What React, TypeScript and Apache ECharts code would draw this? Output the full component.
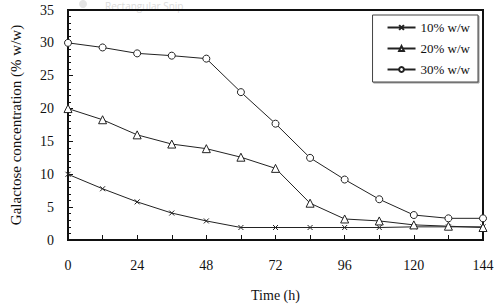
import React, { useEffect, useRef } from "react";
import * as echarts from "echarts";

const times = [0, 12, 24, 36, 48, 60, 72, 84, 96, 108, 120, 132, 144];
const s10 = [10.0, 7.8, 5.8, 4.1, 2.9, 1.9, 1.9, 1.9, 1.9, 1.9, 2.0, 2.0, 2.0];
const s20 = [20.0, 18.3, 16.0, 14.6, 13.9, 12.6, 10.9, 5.6, 3.2, 2.9, 2.3, 2.1, 1.9];
const s30 = [30.0, 29.3, 28.4, 28.05, 27.6, 22.5, 17.7, 12.5, 9.2, 6.2, 3.8, 3.3, 3.3];
const seriesNames = ["10% w/w", "20% w/w", "30% w/w"];
const xLabelTicks = [0, 24, 48, 72, 96, 120, 144];

const FONT = "Liberation Serif";
const CROSS = "path://M0,0L10,10M10,0L0,10";

export default function App() {
  const ref = useRef<HTMLDivElement>(null);
  useEffect(() => {
    if (!ref.current) return;
    document.body.style.margin = "0";
    const chart = echarts.init(ref.current, undefined, { renderer: "svg" });
    const mk = (name: string, vals: number[], symbol: string, size: number) => ({
      name,
      type: "line",
      data: times.map((t, i) => [t, vals[i]]),
      symbol,
      symbolSize: size,
      showAllSymbol: true,
      lineStyle: { color: "#222", width: 1 },
      itemStyle: { color: "#fff", borderColor: "#222", borderWidth: 1 },
      emphasis: { disabled: true },
    });
    chart.setOption({
      animation: false,
      backgroundColor: "#fff",
      textStyle: { fontFamily: FONT },
      grid: {
        left: 68,
        right: 17,
        top: 10,
        bottom: 66,
        outerBoundsMode: "none",
        containLabel: false,
        show: true,
        borderColor: "#111",
        borderWidth: 2,
      },
      xAxis: {
        type: "value",
        min: 0,
        max: 144,
        interval: 12,
        name: "Time (h)",
        nameLocation: "middle",
        nameGap: 48,
        nameTextStyle: { fontFamily: FONT, fontSize: 14, color: "#111" },
        axisLine: { show: true, lineStyle: { color: "#111", width: 2 } },
        axisTick: { show: true, inside: true, length: 5, lineStyle: { color: "#111", width: 1 } },
        axisLabel: {
          margin: 18,
          fontFamily: FONT,
          fontSize: 14,
          color: "#111",
          formatter: (v: number) => (xLabelTicks.includes(v) ? String(v) : ""),
        },
        splitLine: { show: false },
      },
      yAxis: {
        type: "value",
        min: 0,
        max: 35,
        interval: 5,
        name: "Galactose concentration (% w/w)",
        nameLocation: "middle",
        nameGap: 45,
        nameTextStyle: { fontFamily: FONT, fontSize: 15, color: "#111" },
        axisLine: { show: true, lineStyle: { color: "#111", width: 2 } },
        axisTick: { show: true, inside: true, length: 5, lineStyle: { color: "#111", width: 1 } },
        minorTick: { show: true, splitNumber: 5, length: 3, lineStyle: { color: "#111", width: 1 } },
        axisLabel: { margin: 14, fontFamily: FONT, fontSize: 14, color: "#111" },
        splitLine: { show: false },
      },
      legend: {
        orient: "vertical",
        right: 22,
        top: 15,
        itemWidth: 28,
        itemHeight: 6,
        itemGap: 8,
        padding: [6, 8, 6, 14],
        borderColor: "#444",
        borderWidth: 1,
        backgroundColor: "#fff",
        shadowColor: "rgba(0,0,0,0.4)",
        shadowOffsetX: 1,
        shadowOffsetY: 1,
        shadowBlur: 1,
        textStyle: { fontFamily: FONT, fontSize: 13, color: "#111" },
        data: seriesNames,
      },
      graphic: [
        {
          type: "circle",
          shape: { cx: 83, cy: 4, r: 4 },
          style: { fill: "#e4e4e4" },
          z: -1,
        },
        {
          type: "text",
          x: 105,
          y: 1,
          style: {
            text: "Rectangular Snip",
            fill: "#dcdcdc",
            font: "10px 'Open Sans', sans-serif",
            verticalAlign: "top",
          },
          z: -1,
        },
      ],
      series: [
        mk(seriesNames[0], s10, CROSS, 5),
        mk(seriesNames[1], s20, "triangle", 8),
        mk(seriesNames[2], s30, "circle", 7),
      ],
    });
    return () => chart.dispose();
  }, []);
  return <div ref={ref} style={{ width: 500, height: 306 }} />;
}
